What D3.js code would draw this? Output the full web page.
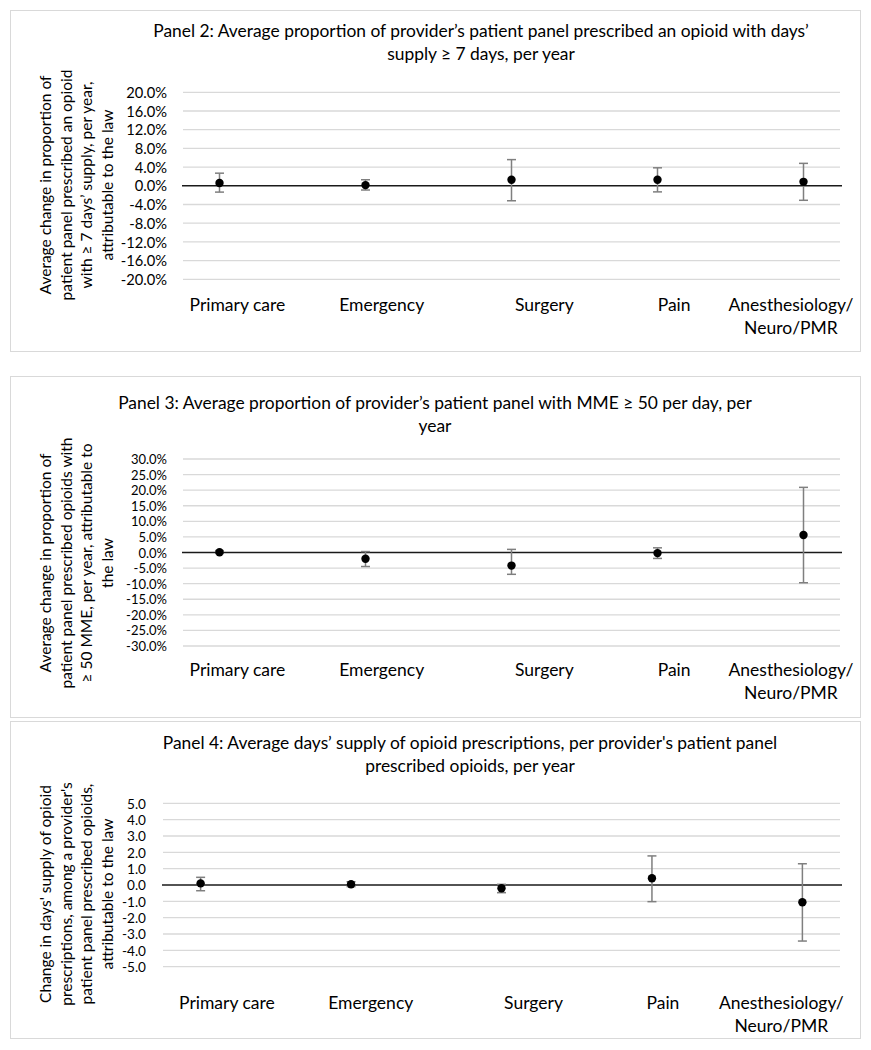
<!DOCTYPE html>
<html><head><meta charset="utf-8">
<script src="https://cdn.jsdelivr.net/npm/d3@7"></script>
<style>
html,body{margin:0;padding:0;background:#fff;}
svg{display:block;font-family:Lato,"Open Sans",sans-serif;}
</style></head>
<body>
<svg id="chart" width="871" height="1050"></svg>
<script>
// ---------- DATA ----------
const categories = ["Primary care", "Emergency", "Surgery", "Pain", "Anesthesiology/|Neuro/PMR"];
const categoryIndex = [1, 2, 3, 4, 5];

// Panel 2 (percent)
const p2Title = ["Panel 2: Average proportion of provider\u2019s patient panel prescribed an opioid with days\u2019", "supply \u2265 7 days, per year"];
const p2YLabel = ["Average change in proportion of", "patient panel prescribed an opioid", "with \u2265 7 days\u2019 supply, per year,", "attributable to the law"];
const p2Est = [0.6, 0.15, 1.3, 1.3, 0.85];
const p2Lo  = [-1.35, -0.9, -3.2, -1.3, -3.1];
const p2Hi  = [2.7, 1.3, 5.6, 3.85, 4.8];
const p2Ticks = [20, 16, 12, 8, 4, 0, -4, -8, -12, -16, -20];

// Panel 3 (percent)
const p3Title = ["Panel 3: Average proportion of provider\u2019s patient panel with MME \u2265 50 per day, per", "year"];
const p3YLabel = ["Average change in proportion of", "patient panel prescribed opioids with", "\u2265 50 MME, per year, attributable to", "the law"];
const p3Est = [0.1, -2.0, -4.2, -0.2, 5.6];
const p3Lo  = [-0.3, -4.5, -7.0, -1.9, -9.7];
const p3Hi  = [0.5, 0.3, 1.0, 1.5, 20.9];
const p3Ticks = [30, 25, 20, 15, 10, 5, 0, -5, -10, -15, -20, -25, -30];

// Panel 4 (days)
const p4Title = ["Panel 4: Average days\u2019 supply of opioid prescriptions, per provider's patient panel", "prescribed opioids, per year"];
const p4YLabel = ["Change in days' supply of opioid", "prescriptions, among a provider's", "patient panel prescribed  opioids,", "attributable to the law"];
const p4Est = [0.1, 0.05, -0.2, 0.41, -1.06];
const p4Lo  = [-0.35, -0.1, -0.47, -1.02, -3.43];
const p4Hi  = [0.47, 0.2, 0.04, 1.78, 1.30];
const p4Ticks = [5, 4, 3, 2, 1, 0, -1, -2, -3, -4, -5];

// ---------- LAYOUT ----------
const svg = d3.select("#chart");
const TITLE_FS = 17.4, CAT_FS = 17.5, YLAB_FS = 15.5;

function panel(cfg) {
  const g = svg.append("g");
  g.append("rect").attr("x", cfg.box[0] + 0.5).attr("y", cfg.box[1] + 0.5)
    .attr("width", cfg.box[2] - cfg.box[0]).attr("height", cfg.box[3] - cfg.box[1])
    .attr("fill", "#fff").attr("stroke", "#d9d9d9").attr("stroke-width", 1);

  const x = d3.scaleLinear().domain([0.75, 5.25]).range([cfg.x0, cfg.x1]);
  const y = d3.scaleLinear().domain(cfg.yDomain).range([cfg.yBottom, cfg.yTop]);

  cfg.title.forEach((t, i) => {
    g.append("text").attr("x", cfg.titleX).attr("y", cfg.titleY + i * 23)
      .attr("text-anchor", "middle").attr("dominant-baseline", "central")
      .attr("font-size", TITLE_FS).attr("fill", "#000").text(t);
  });

  g.append("g").selectAll("line").data(cfg.ticks.filter(d => d !== 0)).join("line")
    .attr("x1", cfg.x0).attr("x2", cfg.x1)
    .attr("y1", d => y(d)).attr("y2", d => y(d))
    .attr("stroke", "#d9d9d9").attr("stroke-width", 1.3);

  const axis = d3.axisLeft(y).tickValues(cfg.ticks).tickSize(0).tickPadding(0).tickFormat(cfg.fmt);
  const ag = g.append("g").attr("transform", `translate(${cfg.tickRight},0)`).call(axis);
  ag.select(".domain").remove();
  ag.selectAll("text").attr("font-size", cfg.tickFs).attr("font-family", "Lato, 'Open Sans', sans-serif")
    .attr("fill", "#000").attr("dy", "0.35em");

  g.append("line").attr("x1", cfg.x0 - 1).attr("x2", cfg.x1 + 2)
    .attr("y1", y(0)).attr("y2", y(0)).attr("stroke", "#1a1a1a").attr("stroke-width", 1.5);

  const n = cfg.yLabel.length;
  cfg.yLabel.forEach((t, i) => {
    const lx = cfg.labelX + (i - (n - 1) / 2) * 20.7;
    g.append("text").attr("transform", `translate(${lx},${cfg.labelY}) rotate(-90)`)
      .attr("text-anchor", "middle").attr("dominant-baseline", "central")
      .attr("font-size", YLAB_FS).attr("fill", "#000").text(t);
  });

  categories.forEach((c, i) => {
    c.split("|").forEach((l, j) => {
      g.append("text").attr("x", x(cfg.labelPos[i])).attr("y", cfg.catY + j * 23)
        .attr("text-anchor", "middle").attr("dominant-baseline", "central")
        .attr("font-size", CAT_FS).attr("fill", "#000").text(l);
    });
  });

  const data = categoryIndex.map((k, i) => ({ k, est: cfg.est[i], lo: cfg.lo[i], hi: cfg.hi[i] }));
  const eb = g.append("g").attr("stroke", "#7f7f7f").attr("stroke-width", 1.5);
  eb.selectAll(".v").data(data).join("line")
    .attr("x1", d => x(d.k)).attr("x2", d => x(d.k))
    .attr("y1", d => y(d.lo)).attr("y2", d => y(d.hi));
  eb.selectAll(".ch").data(data).join("line")
    .attr("x1", d => x(d.k) - 4.5).attr("x2", d => x(d.k) + 4.5)
    .attr("y1", d => y(d.hi)).attr("y2", d => y(d.hi));
  eb.selectAll(".cl").data(data).join("line")
    .attr("x1", d => x(d.k) - 4.5).attr("x2", d => x(d.k) + 4.5)
    .attr("y1", d => y(d.lo)).attr("y2", d => y(d.lo));

  g.append("g").selectAll("circle").data(data).join("circle")
    .attr("cx", d => x(d.k)).attr("cy", d => y(d.est)).attr("r", 4.2).attr("fill", "#000");
}

const pctFmt = d => d.toFixed(1) + "%";
const numFmt = d => d.toFixed(1);

panel({
  box: [10, 10, 860, 351], x0: 183, x1: 840, yTop: 92.3, yBottom: 279.3, yDomain: [-20, 20],
  ticks: p2Ticks, fmt: pctFmt, tickRight: 167, tickFs: 14.7,
  title: p2Title, titleX: 481, titleY: 30,
  yLabel: p2YLabel, labelX: 76, labelY: 185,
  est: p2Est, lo: p2Lo, hi: p2Hi,
  labelPos: [1.123, 2.111, 3.225, 4.114, 4.914], catY: 304
});

panel({
  box: [10, 376, 860, 717], x0: 183, x1: 840, yTop: 459, yBottom: 646, yDomain: [-30, 30],
  ticks: p3Ticks, fmt: pctFmt, tickRight: 167, tickFs: 13,
  title: p3Title, titleX: 435, titleY: 402.5,
  yLabel: p3YLabel, labelX: 76, labelY: 563,
  est: p3Est, lo: p3Lo, hi: p3Hi,
  labelPos: [1.123, 2.111, 3.225, 4.114, 4.914], catY: 669
});

panel({
  box: [10, 721, 860, 1038], x0: 163, x1: 840, yTop: 803.3, yBottom: 966.7, yDomain: [-5, 5],
  ticks: p4Ticks, fmt: numFmt, tickRight: 146, tickFs: 13.6,
  title: p4Title, titleX: 470, titleY: 742,
  yLabel: p4YLabel, labelX: 76, labelY: 894,
  est: p4Est, lo: p4Lo, hi: p4Hi,
  labelPos: [1.175, 2.131, 3.213, 4.073, 4.86], catY: 1002
});
</script>
</body></html>
